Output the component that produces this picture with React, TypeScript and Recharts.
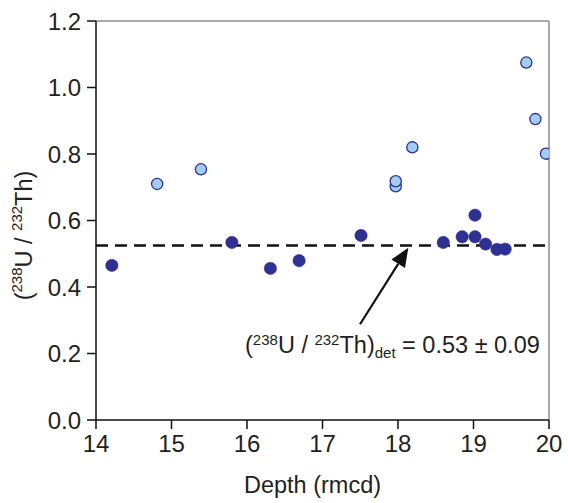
import React from 'react';
import {
  ScatterChart,
  Scatter,
  XAxis,
  YAxis,
  ReferenceLine,
  Label,
} from 'recharts';

// depth (rmcd) and activity ratio
const detritalDepth = [14.21, 15.8, 16.31, 16.69, 17.51, 18.6, 18.85, 19.02, 19.02, 19.16, 19.31, 19.42];
const detritalRatio = [0.465, 0.534, 0.456, 0.479, 0.555, 0.534, 0.551, 0.551, 0.616, 0.529, 0.513, 0.514];
const otherDepth = [14.81, 15.39, 17.97, 17.97, 18.19, 19.7, 19.82, 19.96];
const otherRatio = [0.71, 0.754, 0.703, 0.718, 0.82, 1.075, 0.905, 0.801];

const xTicks = [14, 15, 16, 17, 18, 19, 20];
const yTicks = [0, 0.2, 0.4, 0.6, 0.8, 1.0, 1.2];
const detValue = 0.525;
const arrowFrom = { x: 17.497, y: 0.288 };
const arrowTo = { x: 18.137, y: 0.518 };

const FONT = '"Liberation Sans", Arial, Helvetica, sans-serif';
const NAVY = '#2e3192';
const LIGHT = '#a3cdef';
const TEXT = '#231f20';

const detritalData = detritalDepth.map((d, i) => ({ depth: d, ratio: detritalRatio[i] }));
const otherData = otherDepth.map((d, i) => ({ depth: d, ratio: otherRatio[i] }));

const darkDot = (p: any) => (
  <circle cx={p.cx} cy={p.cy} r={6.2} fill={NAVY} stroke={NAVY} strokeWidth={0.5} />
);
const lightDot = (p: any) => (
  <circle cx={p.cx} cy={p.cy} r={5.6} fill={LIGHT} stroke={NAVY} strokeWidth={1.3} />
);

const ArrowWithNote = (p: any) => {
  const { x1, y1, x2, y2 } = p;
  const ang = Math.atan2(y2 - y1, x2 - x1);
  const len = 19;
  const half = 8;
  const bx = x2 - len * Math.cos(ang);
  const by = y2 - len * Math.sin(ang);
  const px = -Math.sin(ang) * half;
  const py = Math.cos(ang) * half;
  return (
    <g>
      <line x1={x1} y1={y1} x2={bx} y2={by} stroke="#111" strokeWidth={2.2} />
      <path d={`M${x2},${y2} L${bx + px},${by + py} L${bx - px},${by - py} Z`} fill="#111" />
      <text x={x1 - 115} y={y1 + 29} fontFamily={FONT} fontSize={23.5} fill={TEXT}>
        (<tspan fontSize={15} dy={-8}>238</tspan>
        <tspan dy={8}>U / </tspan>
        <tspan fontSize={15} dy={-8}>232</tspan>
        <tspan dy={8}>Th)</tspan>
        <tspan fontSize={15} dy={5}>det</tspan>
        <tspan dy={-5}> = 0.53 ± 0.09</tspan>
      </text>
    </g>
  );
};

const YTitle = (p: any) => {
  const vb = p.viewBox;
  const cx = 24;
  const cy = vb.y + vb.height / 2 + 15;
  return (
    <text
      x={cx}
      y={cy}
      transform={`rotate(-90, ${cx}, ${cy})`}
      textAnchor="middle"
      dominantBaseline="central"
      fontFamily={FONT}
      fontSize={23.5}
      fill={TEXT}
    >
      (<tspan fontSize={15} dy={-8}>238</tspan>
      <tspan dy={8}>U / </tspan>
      <tspan fontSize={15} dy={-8}>232</tspan>
      <tspan dy={8}>Th)</tspan>
    </text>
  );
};

const XTitle = (p: any) => {
  const vb = p.viewBox;
  return (
    <text
      x={vb.x + vb.width / 2 - 10}
      y={493}
      textAnchor="middle"
      fontFamily={FONT}
      fontSize={23.5}
      fill={TEXT}
    >
      Depth (rmcd)
    </text>
  );
};

export default function App() {
  return (
    <div style={{ position: 'absolute', left: 0, top: 0, background: '#fff' }}>
      <ScatterChart
        width={568}
        height={503}
        margin={{ top: 21, right: 19, bottom: 23, left: 36 }}
      >
        <XAxis
          type="number"
          dataKey="depth"
          domain={[14, 20]}
          ticks={xTicks}
          allowDataOverflow
          height={60}
          tickSize={9}
          tickMargin={6}
          stroke="#111"
          strokeWidth={1.5}
          tick={{ fontSize: 24, fill: TEXT, fontFamily: FONT }}
        >
          <Label content={XTitle} />
        </XAxis>
        <YAxis
          type="number"
          dataKey="ratio"
          domain={[0, 1.2]}
          ticks={yTicks}
          allowDataOverflow
          width={60}
          tickSize={9}
          tickMargin={6}
          stroke="#111"
          strokeWidth={1.5}
          tickFormatter={(v: number) => v.toFixed(1)}
          tick={{ fontSize: 24, fill: TEXT, fontFamily: FONT }}
        >
          <Label content={YTitle} />
        </YAxis>
        <ReferenceLine y={1.2} stroke="#8c8c8c" strokeWidth={1.5} />
        <ReferenceLine x={20} stroke="#8c8c8c" strokeWidth={1.5} />
        <ReferenceLine
          y={detValue}
          stroke="#111"
          strokeWidth={2.5}
          strokeDasharray="12 7"
        />
        <ReferenceLine
          segment={[arrowFrom, arrowTo]}
          shape={ArrowWithNote}
          ifOverflow="visible"
        />
        <Scatter data={otherData} shape={lightDot} isAnimationActive={false} />
        <Scatter data={detritalData} shape={darkDot} isAnimationActive={false} />
      </ScatterChart>
    </div>
  );
}
